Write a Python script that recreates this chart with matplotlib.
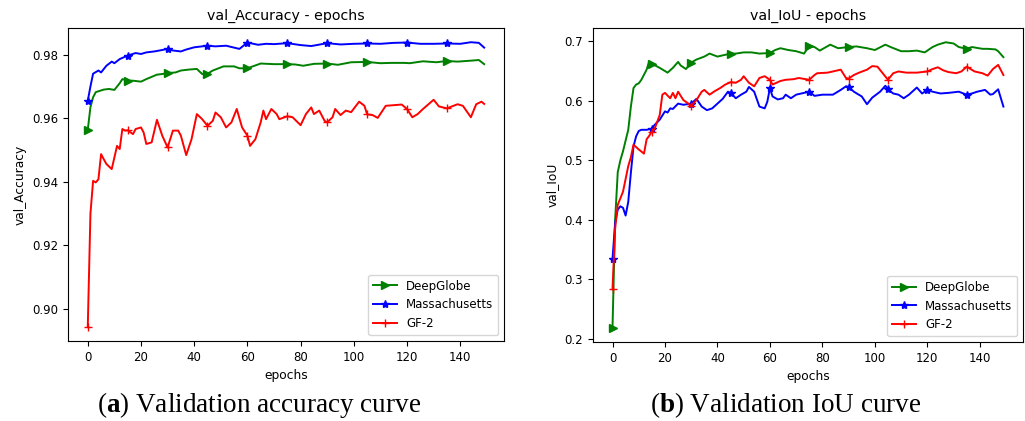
import numpy as np
import matplotlib
matplotlib.use("Agg")
import matplotlib.pyplot as plt

# validation accuracy curves (epoch, value)
acc_green_ep = [0, 1, 2, 3, 6, 8, 10, 12, 13, 15, 17, 20, 22, 26, 28, 30, 33, 35, 38, 41, 43, 45, 47, 51,
                55, 57, 60, 62, 65, 70, 75, 78, 81, 85, 90, 94, 99, 105, 110, 114, 119, 121, 126, 131,
                135, 139, 144, 147, 149]
acc_green = [0.9564, 0.9635, 0.9666, 0.9682, 0.9690, 0.9692, 0.9689, 0.9710, 0.9723, 0.9718, 0.9718,
             0.9715, 0.9723, 0.9737, 0.9739, 0.9742, 0.9744, 0.9750, 0.9753, 0.9755, 0.9739, 0.9740,
             0.9750, 0.9763, 0.9763, 0.9757, 0.9757, 0.9763, 0.9772, 0.9770, 0.9770, 0.9769, 0.9765,
             0.9771, 0.9772, 0.9768, 0.9776, 0.9777, 0.9773, 0.9774, 0.9774, 0.9773, 0.9779, 0.9776,
             0.9780, 0.9778, 0.9781, 0.9783, 0.9770]

acc_blue_ep = [0, 1, 2, 4, 5, 7, 9, 10, 12, 15, 18, 20, 22, 25, 27, 30, 32, 35, 37, 40, 43, 45, 48, 52,
               57, 60, 64, 67, 70, 75, 80, 84, 90, 95, 100, 105, 110, 115, 120, 125, 130, 135, 140,
               144, 147, 149]
acc_blue = [0.9655, 0.9700, 0.9740, 0.9750, 0.9744, 0.9765, 0.9778, 0.9773, 0.9786, 0.9797, 0.9805,
            0.9802, 0.9807, 0.9810, 0.9813, 0.9818, 0.9813, 0.9810, 0.9816, 0.9823, 0.9826, 0.9828,
            0.9826, 0.9828, 0.9818, 0.9838, 0.9831, 0.9834, 0.9833, 0.9836, 0.9830, 0.9827, 0.9836,
            0.9832, 0.9834, 0.9835, 0.9834, 0.9837, 0.9838, 0.9834, 0.9834, 0.9835, 0.9834, 0.9839,
            0.9837, 0.9822]

acc_red_ep = [0, 1, 2, 3, 4, 5, 6, 7, 9, 11, 12, 13, 14, 15, 17, 18, 20, 21, 22, 24, 26, 28, 30, 32,
              34, 35, 37, 39, 41, 43, 45, 47, 48, 50, 52, 54, 56, 58, 60, 61, 63, 65, 66, 67, 69, 71,
              72, 75, 77, 80, 82, 84, 85, 87, 89, 90, 92, 93, 95, 97, 99, 102, 104, 105, 107, 109,
              112, 115, 118, 120, 122, 124, 126, 130, 132, 135, 139, 141, 144, 146, 148, 149]
acc_red = [0.8944, 0.9300, 0.9403, 0.9398, 0.9408, 0.9487, 0.9471, 0.9456, 0.9440, 0.9513, 0.9503,
           0.9566, 0.9561, 0.9562, 0.9550, 0.9566, 0.9571, 0.9555, 0.9519, 0.9524, 0.9595, 0.9545,
           0.9508, 0.9561, 0.9561, 0.9545, 0.9484, 0.9534, 0.9613, 0.9597, 0.9576, 0.9592, 0.9618,
           0.9603, 0.9571, 0.9587, 0.9629, 0.9571, 0.9545, 0.9513, 0.9534, 0.9587, 0.9624, 0.9597,
           0.9629, 0.9613, 0.9597, 0.9606, 0.9603, 0.9578, 0.9613, 0.9634, 0.9613, 0.9624, 0.9592,
           0.9587, 0.9603, 0.9629, 0.9610, 0.9624, 0.9619, 0.9652, 0.9639, 0.9612, 0.9610, 0.9601,
           0.9639, 0.9641, 0.9643, 0.9629, 0.9603, 0.9613, 0.9629, 0.9658, 0.9637, 0.9631, 0.9644,
           0.9639, 0.9603, 0.9644, 0.9652, 0.9645]

# validation IoU curves
iou_green_ep = [0, 1, 2, 3, 4, 6, 7, 8, 9, 10, 11, 13, 14, 15, 18, 21, 23, 25, 26, 28, 30, 32, 35, 37,
                40, 42, 45, 47, 50, 53, 56, 60, 62, 64, 67, 70, 73, 75, 77, 79, 83, 86, 90, 93, 97,
                100, 104, 106, 110, 113, 116, 119, 122, 124, 127, 130, 132, 135, 137, 141, 143, 146,
                147, 149]
iou_green = [0.2185, 0.400, 0.480, 0.500, 0.515, 0.551, 0.590, 0.621, 0.627, 0.629, 0.635, 0.652, 0.666,
             0.662, 0.655, 0.647, 0.655, 0.665, 0.659, 0.653, 0.664, 0.669, 0.674, 0.679, 0.674, 0.676,
             0.679, 0.679, 0.681, 0.681, 0.679, 0.680, 0.685, 0.688, 0.685, 0.683, 0.679, 0.692, 0.690,
             0.684, 0.694, 0.688, 0.690, 0.691, 0.688, 0.685, 0.694, 0.690, 0.683, 0.683, 0.684, 0.681,
             0.690, 0.694, 0.698, 0.696, 0.690, 0.687, 0.690, 0.687, 0.687, 0.686, 0.683, 0.673]

iou_blue_ep = [0, 1, 2, 3, 4, 5, 6, 7, 8, 9, 10, 11, 13, 15, 16, 18, 20, 21, 22, 23, 25, 27, 30, 32,
               34, 36, 38, 40, 42, 44, 45, 47, 49, 51, 52, 54, 56, 58, 59, 60, 61, 63, 65, 66, 68, 70,
               72, 75, 77, 80, 84, 87, 89, 90, 92, 95, 97, 99, 102, 104, 105, 107, 109, 111, 113, 116,
               118, 120, 122, 125, 128, 132, 135, 137, 139, 142, 144, 145, 147, 149]
iou_blue = [0.334, 0.395, 0.417, 0.4225, 0.420, 0.407, 0.430, 0.479, 0.523, 0.540, 0.549, 0.551, 0.551,
            0.553, 0.559, 0.568, 0.582, 0.580, 0.587, 0.586, 0.595, 0.593, 0.595, 0.603, 0.590, 0.584,
            0.587, 0.595, 0.603, 0.615, 0.613, 0.604, 0.610, 0.615, 0.623, 0.615, 0.590, 0.587, 0.598,
            0.621, 0.607, 0.602, 0.604, 0.610, 0.604, 0.610, 0.612, 0.615, 0.608, 0.610, 0.610, 0.618,
            0.624, 0.623, 0.615, 0.607, 0.594, 0.605, 0.615, 0.625, 0.619, 0.612, 0.610, 0.604, 0.610,
            0.622, 0.612, 0.618, 0.615, 0.612, 0.613, 0.615, 0.610, 0.612, 0.615, 0.618, 0.610, 0.611,
            0.619, 0.590]

iou_red_ep = [0, 1, 2, 4, 6, 7, 8, 10, 12, 13, 14, 15, 16, 18, 19, 20, 22, 23, 24, 25, 27, 28, 30, 32,
              34, 35, 37, 39, 41, 43, 45, 47, 49, 50, 52, 54, 56, 58, 60, 61, 64, 66, 69, 71, 75, 77,
              78, 82, 84, 87, 89, 90, 92, 94, 97, 99, 101, 103, 105, 107, 109, 112, 116, 120, 122, 124,
              126, 128, 131, 133, 135, 138, 141, 143, 145, 147, 149]
iou_red = [0.283, 0.385, 0.425, 0.447, 0.490, 0.505, 0.526, 0.518, 0.511, 0.535, 0.541, 0.548, 0.552,
           0.576, 0.610, 0.613, 0.604, 0.613, 0.604, 0.615, 0.601, 0.598, 0.591, 0.601, 0.615, 0.618,
           0.610, 0.616, 0.621, 0.627, 0.631, 0.630, 0.635, 0.641, 0.630, 0.624, 0.638, 0.641, 0.635,
           0.627, 0.633, 0.635, 0.636, 0.638, 0.635, 0.643, 0.646, 0.647, 0.649, 0.652, 0.638, 0.637,
           0.643, 0.647, 0.652, 0.658, 0.657, 0.646, 0.635, 0.646, 0.649, 0.647, 0.647, 0.649, 0.653,
           0.656, 0.651, 0.648, 0.646, 0.649, 0.657, 0.649, 0.646, 0.642, 0.653, 0.660, 0.643]

labels = ["DeepGlobe", "Massachusetts", "GF-2"]
colors = ["green", "blue", "red"]
markers = [">", "*", "+"]

plt.rcParams['font.size'] = 8.5


def marks(ep):
    return [i for i, e in enumerate(ep) if e % 15 == 0]


def draw(ax, series, title, ylabel):
    for (ep, vals), lab, c, m in zip(series, labels, colors, markers):
        ax.plot(ep, vals, color=c, marker=m, markevery=marks(ep), lw=1.4, ms=6, label=lab)
    ax.set_title(title, fontsize=10.2)
    ax.set_xlabel("epochs", fontsize=8.8)
    ax.set_ylabel(ylabel, fontsize=8.8)
    ax.set_xticks(range(0, 141, 20))
    ax.legend(loc="lower right", fontsize=8.5)


fig = plt.figure(figsize=(10.25, 4.21), dpi=100)
ax1 = fig.add_axes([0.0663, 0.190, 0.4254, 0.7435])
ax2 = fig.add_axes([0.5785, 0.1875, 0.4195, 0.746])

draw(ax1, [(acc_green_ep, acc_green), (acc_blue_ep, acc_blue), (acc_red_ep, acc_red)],
     "val_Accuracy - epochs", "val_Accuracy")
ax1.set_yticks([0.90, 0.92, 0.94, 0.96, 0.98])
ax1.yaxis.set_major_formatter(matplotlib.ticker.FormatStrFormatter('%.2f'))

draw(ax2, [(iou_green_ep, iou_green), (iou_blue_ep, iou_blue), (iou_red_ep, iou_red)],
     "val_IoU - epochs", "val_IoU")
ax2.set_yticks([0.2, 0.3, 0.4, 0.5, 0.6, 0.7])

plt.rcParams['mathtext.fontset'] = 'custom'
plt.rcParams['mathtext.rm'] = 'Liberation Serif'
plt.rcParams['mathtext.bf'] = 'Liberation Serif:bold'
fig.text(0.253, 0.037, r"($\mathbf{a}$) Validation accuracy curve", ha="center", va="center",
         family="Liberation Serif", fontsize=19.5)
fig.text(0.767, 0.037, r"($\mathbf{b}$) Validation IoU curve", ha="center", va="center",
         family="Liberation Serif", fontsize=19.5)

fig.savefig("out.png", dpi=100)
